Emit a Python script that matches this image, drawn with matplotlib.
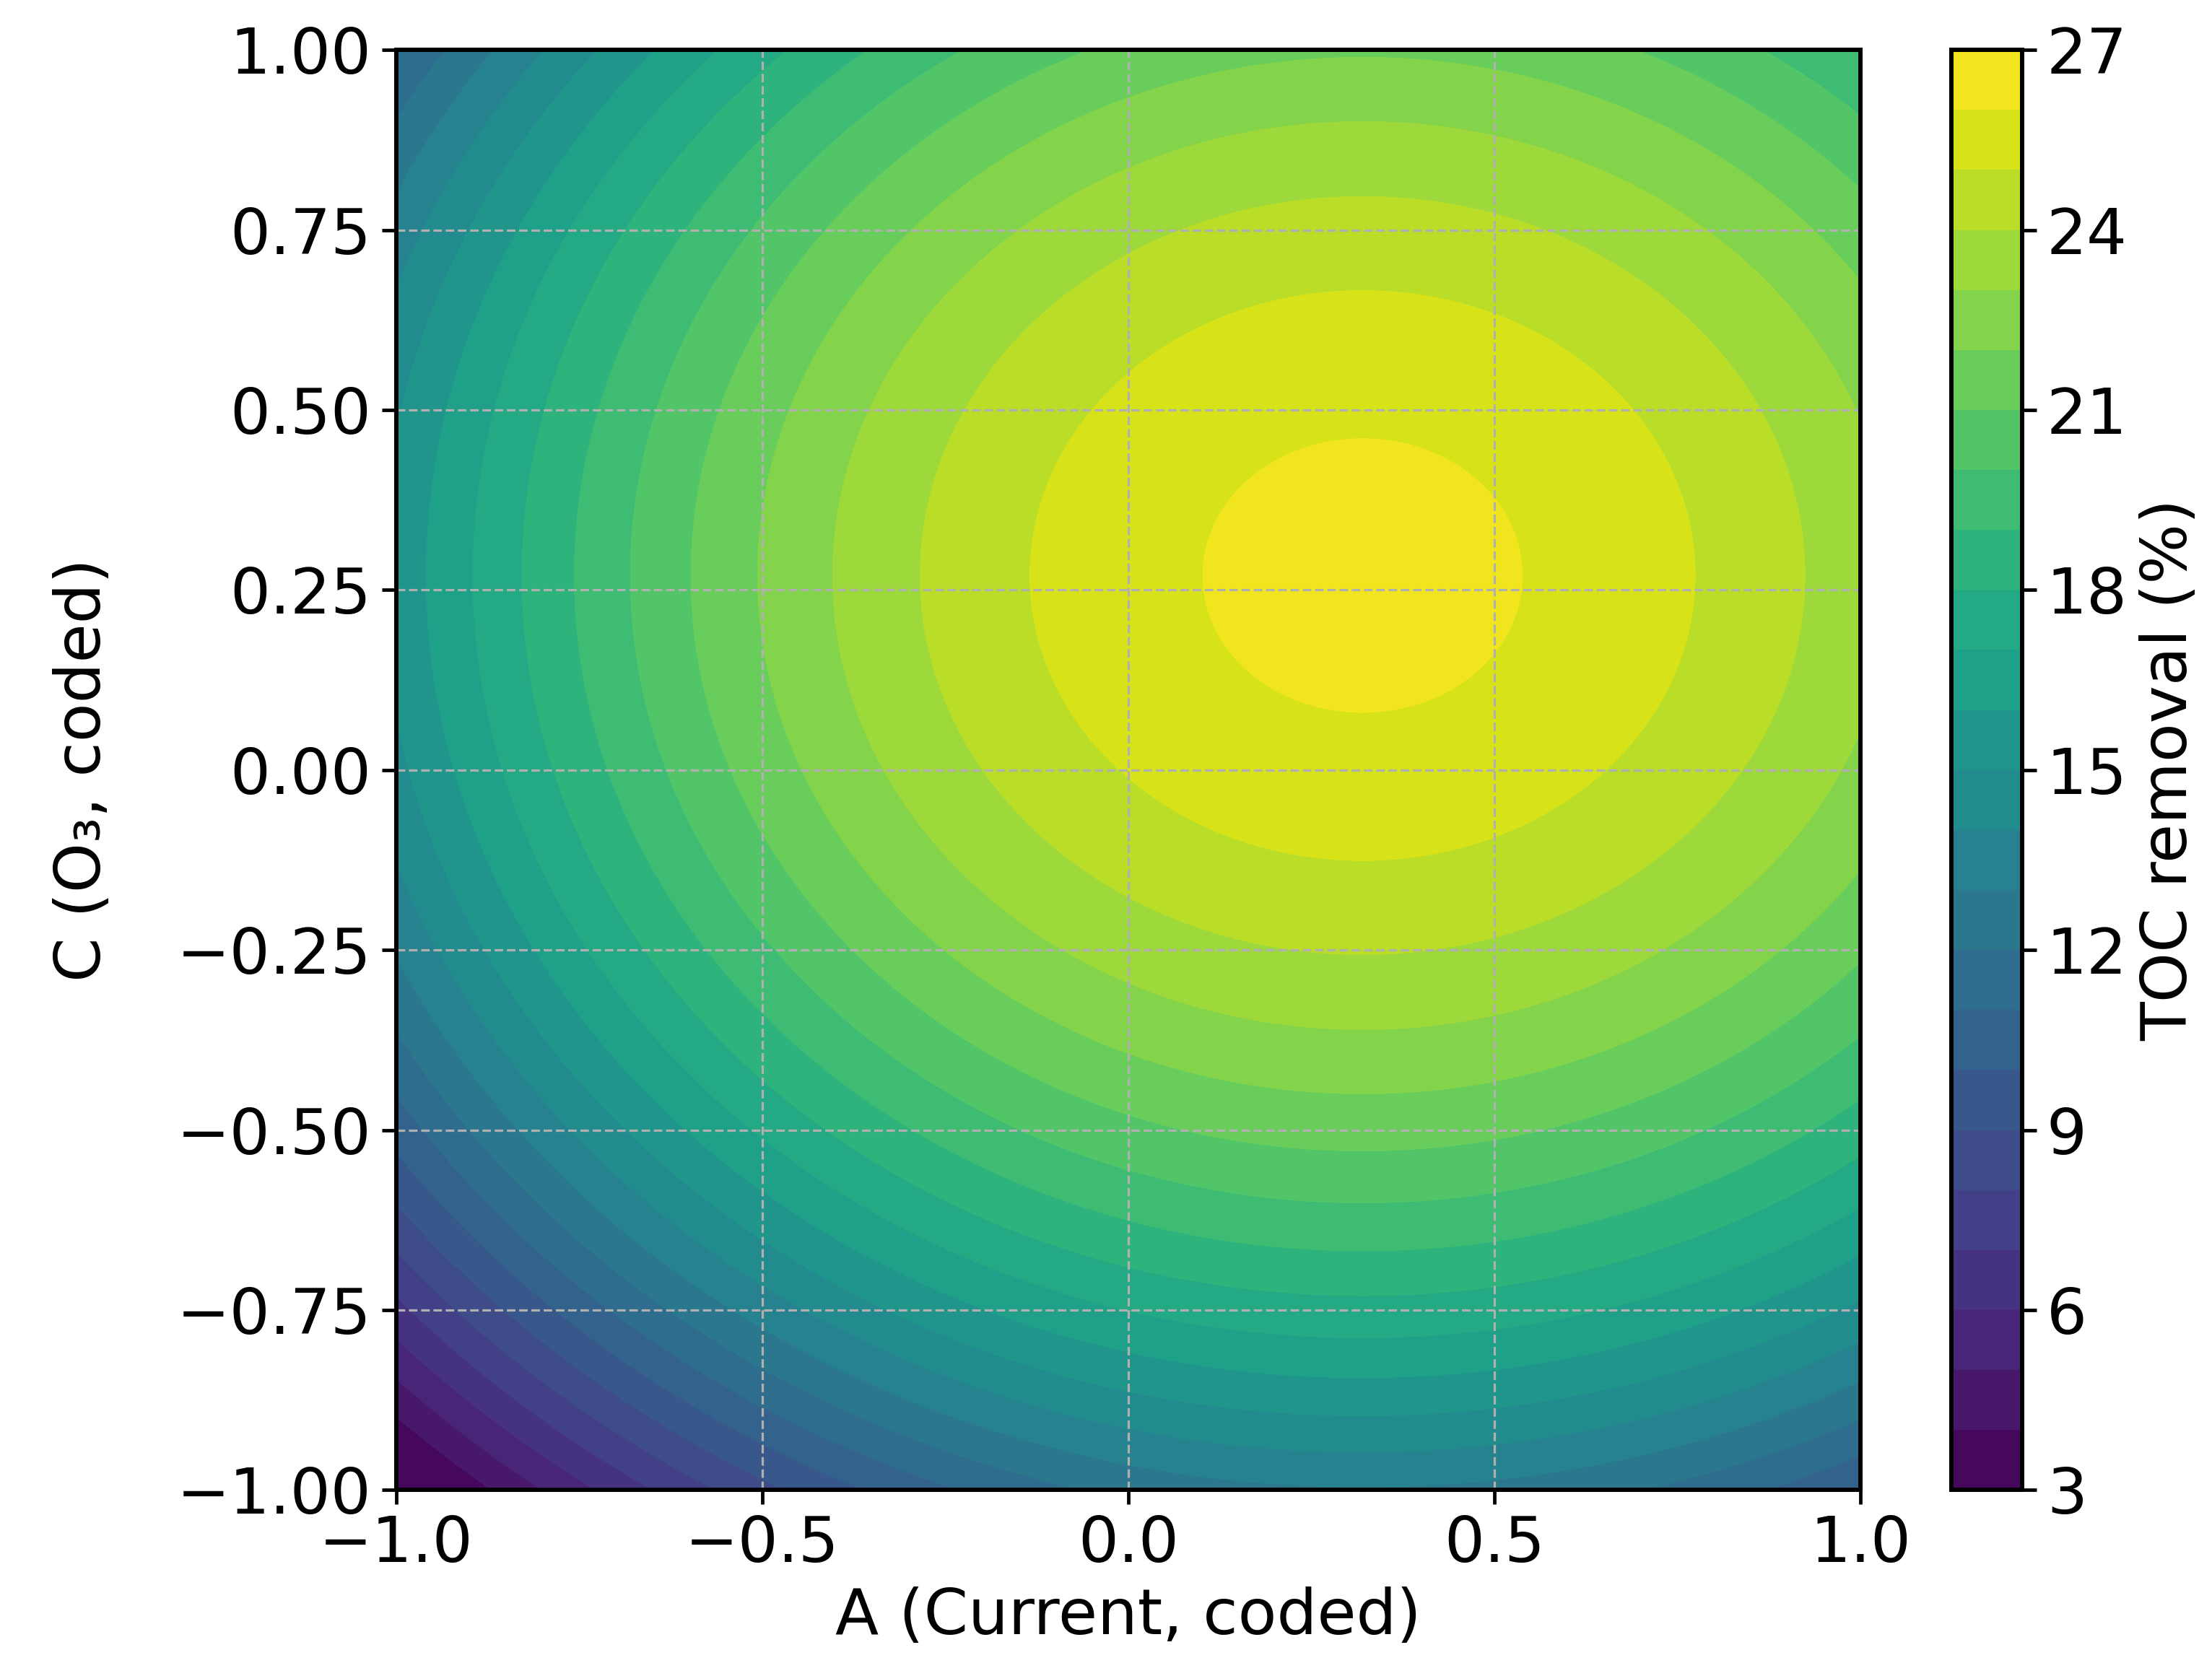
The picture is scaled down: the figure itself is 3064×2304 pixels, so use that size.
import numpy as np
import matplotlib.pyplot as plt

# fitted response surface (coded units)
peak_A = 0.32
peak_C = 0.27
peak_value = 26.3
curv_A = 6.3
curv_C = 8.3

levels = np.arange(3, 28, 1)
cbar_ticks = [3, 6, 9, 12, 15, 18, 21, 24, 27]
x_ticks = [-1.0, -0.5, 0.0, 0.5, 1.0]
y_ticks = [-1.00, -0.75, -0.50, -0.25, 0.00, 0.25, 0.50, 0.75, 1.00]

A = np.linspace(-1, 1, 400)
C = np.linspace(-1, 1, 400)
AA, CC = np.meshgrid(A, C)
Z = peak_value - curv_A * (AA - peak_A) ** 2 - curv_C * (CC - peak_C) ** 2
Z = np.clip(Z, 3.01, 26.99)

fig = plt.figure(figsize=(10.64, 8.0), dpi=288)
ax = fig.add_axes([0.179, 0.104, 0.662, 0.866])
cax = fig.add_axes([0.882, 0.104, 0.032, 0.866])

cs = ax.contourf(AA, CC, Z, levels=levels, cmap='viridis')
ax.grid(True, linestyle='--', color='#b0b0b0', linewidth=0.8)
ax.set_xticks(x_ticks)
ax.set_yticks(y_ticks)
ax.set_xticklabels([('%.1f' % t).replace('-', '\u2212') for t in x_ticks])
ax.set_yticklabels([('%.2f' % t).replace('-', '\u2212') for t in y_ticks])
ax.tick_params(labelsize=22, direction='out', length=5, width=1.2)
ax.set_xlabel('A (Current, coded)', fontsize=22)
ax.set_ylabel('C (O₃, coded)', fontsize=22, labelpad=22)
for s in ax.spines.values():
    s.set_linewidth(1.5)

cb = fig.colorbar(cs, cax=cax, ticks=cbar_ticks)
cb.set_label('TOC removal (%)', fontsize=22)
cb.ax.tick_params(labelsize=22, direction='out', length=5, width=1.2)
cb.outline.set_linewidth(1.5)

fig.savefig('out.png', dpi=288)
